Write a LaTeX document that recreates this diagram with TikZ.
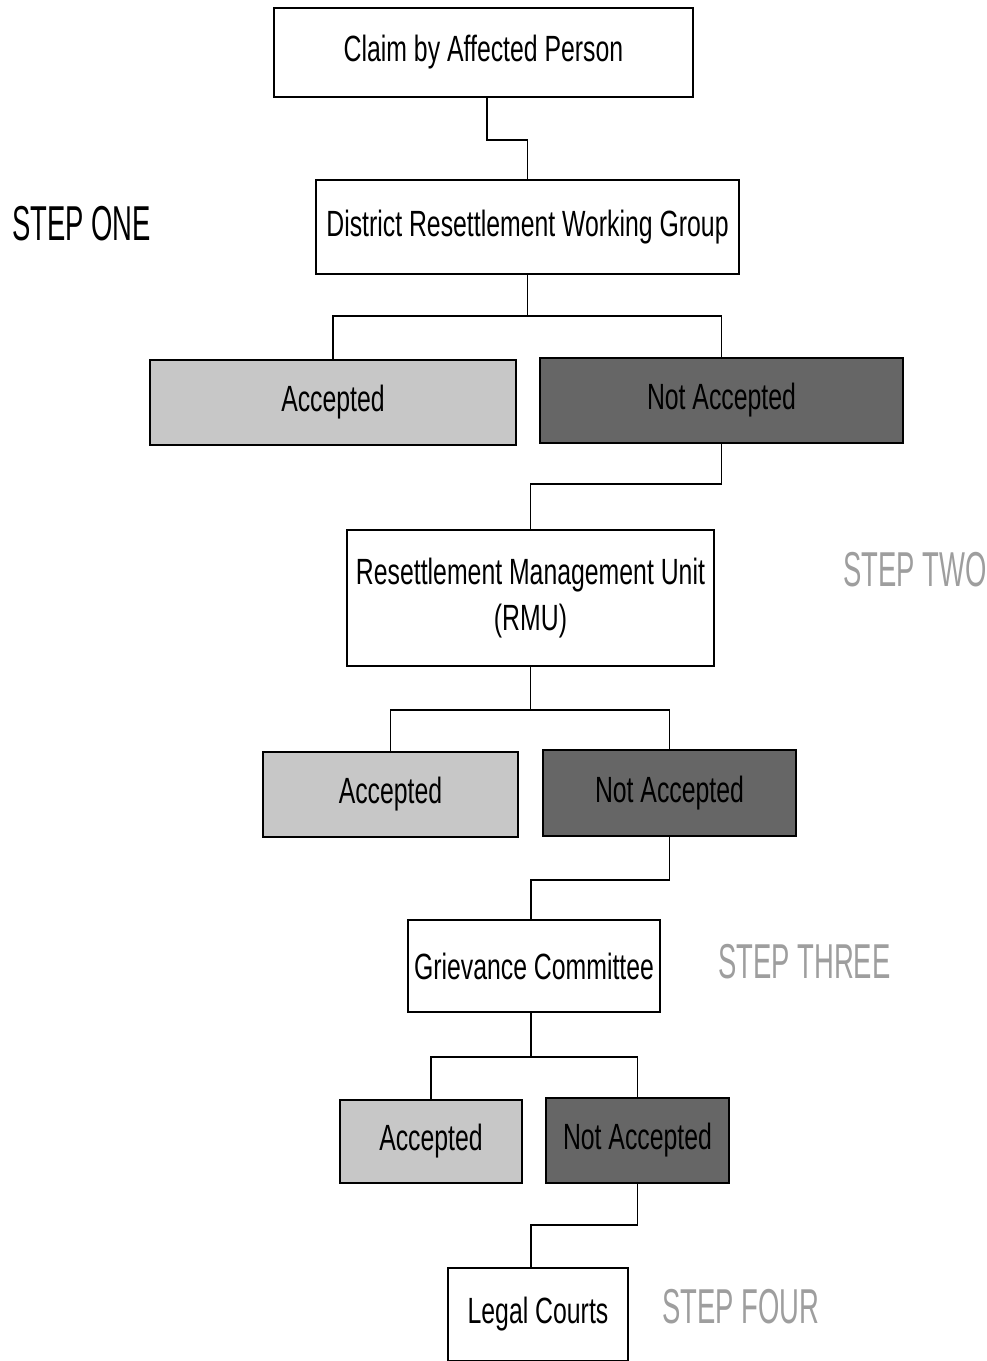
\documentclass[tikz,border=0pt]{standalone}
\usepackage{fontspec}
\setmainfont[FakeStretch=0.68]{Liberation Sans}
\newfontfamily\stepfont[FakeStretch=0.56]{Liberation Sans}
\begin{document}
\begin{tikzpicture}[x=1pt,y=-1pt,
  box/.style={draw=black,line width=1.6pt,inner sep=0pt,align=center,
    font=\fontsize{36.5}{46}\selectfont},
  accbox/.style={box,fill=black!22},
  naccbox/.style={box,fill=black!60},
  conn/.style={line width=1.6pt},
  steplbl/.style={font=\stepfont\fontsize{49}{55}\selectfont,inner sep=0pt},
  faint/.style={steplbl,text=black!38}]
\useasboundingbox (0,0) rectangle (986,1361);
\node[box,minimum width=419pt,minimum height=89pt] (claim) at (483.5,52.5) {Claim by Affected Person};
\node[box,minimum width=423pt,minimum height=94pt] (drwg) at (527.5,227) {District Resettlement Working Group};
\node[accbox,minimum width=366pt,minimum height=85pt] (acc1) at (333,402.5) {Accepted};
\node[naccbox,minimum width=363pt,minimum height=85pt] (nacc1) at (721.5,400.5) {Not Accepted};
\node[box,minimum width=367pt,minimum height=136pt] (rmu) at (530.5,598) {Resettlement Management Unit\\(RMU)};
\node[accbox,minimum width=255pt,minimum height=85pt] (acc2) at (390.5,794.5) {Accepted};
\node[naccbox,minimum width=253pt,minimum height=86pt] (nacc2) at (669.5,793) {Not Accepted};
\node[box,minimum width=252pt,minimum height=92pt] (gc) at (534,966) {Grievance Committee};
\node[accbox,minimum width=182pt,minimum height=83pt] (acc3) at (431,1141.5) {Accepted};
\node[naccbox,minimum width=183pt,minimum height=85pt] (nacc3) at (637.5,1140.5) {Not Accepted};
\node[box,minimum width=180pt,minimum height=93pt] (legal) at (538,1314.5) {Legal Courts};

\node[steplbl,anchor=west] (s1) at (12,224) {STEP ONE};
\node[faint,anchor=west] (s2) at (843,570) {STEP TWO};
\node[faint,anchor=west] (s3) at (718,962) {STEP THREE};
\node[faint,anchor=west] (s4) at (662,1307) {STEP FOUR};

\coordinate (j0) at (507,140);
\coordinate (j1) at (527.5,316);
\coordinate (k1) at (626,484);
\coordinate (j2) at (530.5,710);
\coordinate (k2) at (600,880);
\coordinate (j3) at (534,1057);
\coordinate (k3) at (585,1225);

\draw[conn] ([xshift=3.5pt]claim.south) |- (j0) -| (drwg.north);
\draw[conn] (drwg.south) -- (j1);
\draw[conn] (acc1.north) |- (j1) -| (nacc1.north);
\draw[conn] (nacc1.south) |- (k1) -| (rmu.north);
\draw[conn] (rmu.south) -- (j2);
\draw[conn] (acc2.north) |- (j2) -| (nacc2.north);
\draw[conn] (nacc2.south) |- (k2) -| ([xshift=-3pt]gc.north);
\draw[conn] ([xshift=-3pt]gc.south) |- (j3);
\draw[conn] (acc3.north) |- (j3) -| (nacc3.north);
\draw[conn] (nacc3.south) |- (k3) -| ([xshift=-7pt]legal.north);
\end{tikzpicture}
\end{document}
